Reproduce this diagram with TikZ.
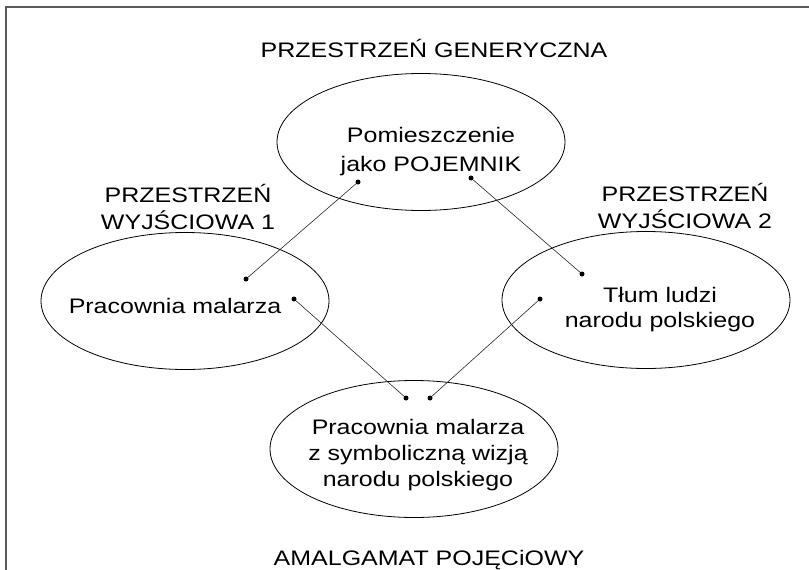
\documentclass[tikz,border=0pt]{standalone}
\usepackage{fontspec}
\setmainfont[FakeStretch=1.19]{Liberation Sans}
\usetikzlibrary{shapes.geometric}
\tikzset{
  space/.style={
    draw,
    ellipse,
    line width=0.8pt,
    inner sep=0pt,
    minimum width=288pt,
    minimum height=137pt
  },
  lbl/.style={
    align=center,
    anchor=base,
    inner sep=0pt,
    font=\fontsize{21}{27}\selectfont
  },
  pin/.style={circle, fill, inner sep=0pt, minimum size=5pt},
  link/.style={line width=0.6pt, draw=black!85}
}

\begin{document}
\begin{tikzpicture}[x=1pt, y=-1pt]
  \useasboundingbox (0,0) rectangle (809,570);
  % frame
  \draw[line width=1.2pt, black!65] (6,570) -- (6,7) -- (809,7);

  % generic space
  \node[lbl] (gen) at (434,57) {PRZESTRZEŃ GENERYCZNA};
  \node[space] (genspace) at (421,142) {};
  \node[lbl, font=\fontsize{21}{29}\selectfont] (gentext) at (431,171) {Pomieszczenie\\jako POJEMNIK};

  % input spaces
  \node[lbl] (inA) at (188,229) {PRZESTRZEŃ\\WYJŚCIOWA 1};
  \node[space] (inAspace) at (185,301) {};
  \node[lbl] (inAtext) at (175,313) {Pracownia malarza};

  \node[lbl] (inB) at (685,228) {PRZESTRZEŃ\\WYJŚCIOWA 2};
  \node[space] (inBspace) at (646,300) {};
  \node[lbl, font=\fontsize{21}{25}\selectfont] (inBtext) at (660,327) {Tłum ludzi\\narodu polskiego};

  % blend
  \node[space] (blend) at (414,449) {};
  \node[lbl, font=\fontsize{21}{26}\selectfont] (blendtext) at (418,486) {Pracownia malarza\\z symboliczną wizją\\narodu polskiego};
  \node[lbl] (amal) at (429,565) {AMALGAMAT POJĘCiOWY};

  % dots
  \node[pin] (genL) at (358,182) {};
  \node[pin] (genR) at (471,178) {};
  \node[pin] (inAup) at (246,279) {};
  \node[pin] (inAdown) at (294,299) {};
  \node[pin] (inBup) at (582,274) {};
  \node[pin] (inBdown) at (540,299) {};
  \node[pin] (blendL) at (406,398) {};
  \node[pin] (blendR) at (430,398) {};

  \draw[link] (genL) -- (inAup);
  \draw[link] (genR) -- (inBup);
  \draw[link] (inAdown) -- (blendL);
  \draw[link] (inBdown) -- (blendR);
\end{tikzpicture}
\end{document}
